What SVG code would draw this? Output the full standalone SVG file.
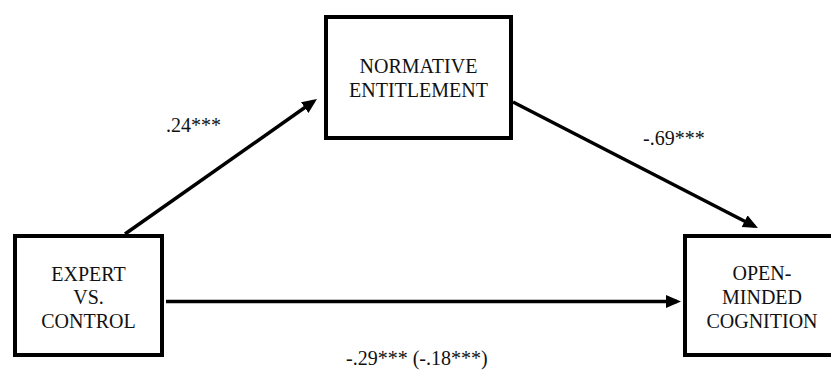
<svg xmlns="http://www.w3.org/2000/svg" width="831" height="370" viewBox="0 0 831 370">
<style>
.box{fill:#fff;stroke:#000;stroke-width:4}
text{font-family:"Liberation Serif",serif;font-size:20px;fill:#111}
.t{text-anchor:middle}
.c{stroke:#000;stroke-width:3.5;fill:none;marker-end:url(#ah)}
</style>
<defs>
<marker id="ah" markerUnits="userSpaceOnUse" markerWidth="16" markerHeight="14" refX="11" refY="6.5" orient="auto">
<path d="M0,0 L15,6.5 L0,13 z" fill="#000"/>
</marker>
</defs>
<rect width="831" height="370" fill="#fff"/>
<g id="connectors">
<line class="c" x1="125" y1="234" x2="313.7" y2="101.3"/>
<line class="c" x1="513" y1="102" x2="754.4" y2="226.2"/>
<line class="c" x1="166" y1="301.5" x2="677" y2="301.5"/>
</g>
<g id="normative">
<rect class="box" x="326" y="17" width="185" height="121"/>
<text class="t" x="418.5" y="73">NORMATIVE</text>
<text class="t" x="418.5" y="97">ENTITLEMENT</text>
</g>
<g id="expert">
<rect class="box" x="15" y="236" width="147" height="119"/>
<text class="t" x="88.5" y="281">EXPERT</text>
<text class="t" x="88.5" y="304">VS.</text>
<text class="t" x="88.5" y="328">CONTROL</text>
</g>
<g id="openminded">
<rect class="box" x="685" y="236" width="170" height="119"/>
<text class="t" x="762" y="280">OPEN-</text>
<text class="t" x="762" y="304">MINDED</text>
<text class="t" x="762" y="328">COGNITION</text>
</g>
<g id="labels">
<text x="166" y="132">.24***</text>
<text x="643" y="145">-.69***</text>
<text x="346" y="365">-.29*** (-.18***)</text>
</g>
</svg>
